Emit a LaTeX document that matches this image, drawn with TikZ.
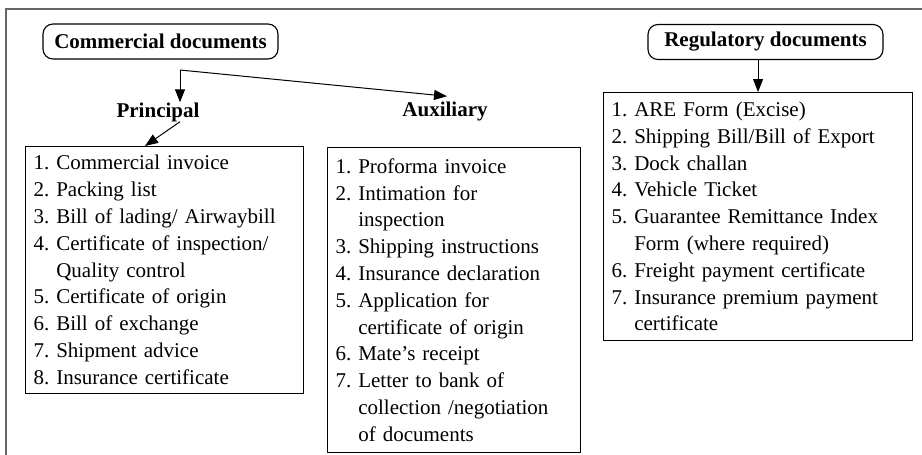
\documentclass[tikz,border=0pt]{standalone}
\usepackage{fontspec}
\setmainfont{Liberation Serif}
\usetikzlibrary{arrows.meta,calc}
\frenchspacing
% indent for the wrapped part of a numbered item
\newcommand\wrapind{\hphantom{4. }}

\begin{document}
\begin{tikzpicture}[x=1pt,y=-1pt,
  every node/.style={inner sep=0pt},
  head/.style={font=\fontsize{21}{25}\selectfont\bfseries},
  headbox/.style={head, draw, rounded corners=10pt, line width=1.1pt,
    minimum width=235pt, minimum height=35pt},
  listbox/.style={draw, line width=1.1pt, anchor=north west, inner xsep=8pt,
    inner ysep=0pt, align=left, font=\fontsize{21}{26.8}\selectfont},
  arr/.style={line width=1pt, -{Triangle[length=13pt,width=10pt]}},
  frame/.style={draw=black!60, line width=2pt}
]
\useasboundingbox (0,0) rectangle (922,455);

% outer frame
\draw[frame] (922,9) -- (6,9) -- (6,455);

% headings
\node[headbox] (com) at (160.5,41.5) {Commercial documents};
\node[headbox] (reg) at (765.5,42) {Regulatory documents};
\coordinate (split) at (180,70);
\node[head] (prin) at (158,112) {Principal};
\node[head] (aux) at (445,111) {Auxiliary};

% lists
\node[listbox, text width=262pt, minimum height=247pt] (plist) at (25,146) {%
1. Commercial invoice\\
2. Packing list\\
3. Bill of lading/ Airwaybill\\
4. Certificate of inspection/\\
\wrapind Quality control\\
5. Certificate of origin\\
6. Bill of exchange\\
7. Shipment advice\\
8. Insurance certificate};

\node[listbox, text width=237pt, minimum height=305pt] (alist) at (327,147) {%
1. Proforma invoice\\
2. Intimation for\\
\wrapind inspection\\
3. Shipping instructions\\
4. Insurance declaration\\
5. Application for\\
\wrapind certificate of origin\\
6. Mate’s receipt\\
7. Letter to bank of\\
\wrapind collection /negotiation\\
\wrapind of documents};

\node[listbox, text width=293pt, minimum height=248pt] (rlist) at (603,92) {%
1. ARE Form (Excise)\\
2. Shipping Bill/Bill of Export\\
3. Dock challan\\
4. Vehicle Ticket\\
5. Guarantee Remittance Index\\
\wrapind Form (where required)\\
6. Freight payment certificate\\
7. Insurance premium payment\\
\wrapind certificate};

% connectors
\draw[arr] (split) -- (split |- prin.north);
\draw[arr] (split) -- ($(aux.north)+(2,-5)$);
\draw[arr] ($(prin.south)+(22,0)$) -- ($(plist.north west)+(120,0)$);
\draw[arr] (rlist.north |- reg.south) -- (rlist.north);
\end{tikzpicture}
\end{document}
